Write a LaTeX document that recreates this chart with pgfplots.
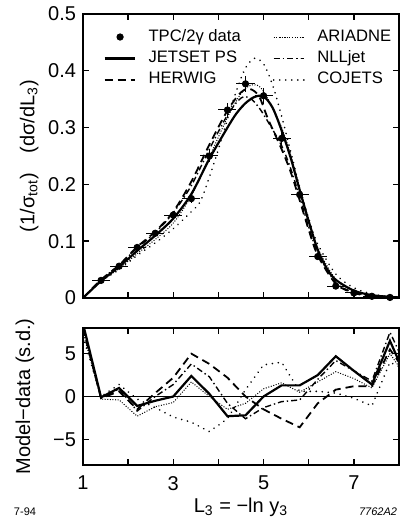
\documentclass[border=0pt]{standalone}
\usepackage{fontspec}
\setmainfont{Liberation Sans}
\usepackage{pgfplots}
\pgfplotsset{compat=1.18}
\tikzset{
  jetset/.style={black, line width=1.1pt},
  herwig/.style={black, line width=0.9pt, dash pattern=on 4pt off 2.5pt},
  ariadne/.style={black, line width=0.5pt, dash pattern=on 0.5pt off 0.8pt},
  nlljet/.style={black, line width=0.7pt, dash pattern=on 3pt off 1.5pt on 0.7pt off 1.5pt},
  cojets/.style={black, line width=0.9pt, line cap=round, dash pattern=on 0.01pt off 3pt},
}
\pgfplotsset{
  common/.style={
    scale only axis, width=158pt, anchor=south west,
    xmin=1, xmax=8, xtick={1,2,3,4,5,6,7,8},
    tick align=inside, tick pos=both, major tick length=3pt,
    axis line style={line width=0.8pt}, every tick/.style={black, line width=0.7pt},
    ticklabel style={font=\fontsize{10}{12}\selectfont},
    label style={font=\fontsize{10}{12}\selectfont},
  }
}
\begin{document}
\begin{tikzpicture}[x=1pt,y=1pt]
\path[use as bounding box] (0,0) rectangle (200,260);
% ---------------- top panel ----------------
\begin{axis}[common,
  at={(41.5pt,111pt)}, height=142pt,
  ymin=0, ymax=0.5,
  xticklabels={},
  ytick={0,0.1,0.2,0.3,0.4,0.5}, yticklabels={0,0.1,0.2,0.3,0.4,0.5},
  ylabel={(1/σ\textsubscript{tot})\quad(dσ/dL\textsubscript{3})},
  ylabel style={at={(axis description cs:-0.17,0.5)}, anchor=center},
  legend columns=2,
  legend style={at={(axis description cs:0.045,0.975)}, anchor=north west,
    draw=none, fill=none, font=\fontsize{8.3}{9.5}\selectfont, row sep=-0.8pt,
    /tikz/every odd column/.append style={column sep=4pt},
    /tikz/every even column/.append style={column sep=14pt},
    /pgfplots/legend image code/.code={\draw[mark repeat=2,mark phase=2,#1]
      plot coordinates {(0cm,0cm) (0.27cm,0cm) (0.54cm,0cm)};}},
  legend cell align=left,
]
\addplot[only marks, mark=*, mark size=1.6pt, black,
  error bars/.cd, x dir=both, x explicit, y dir=both, y explicit,
  error bar style={line width=0.5pt, black}, error mark=none]
  table[x=x, y=y, x error=ex, y error=ey] {
x   y     ex  ey
1.4 0.031 0.2 0.004
1.8 0.056 0.2 0.004
2.2 0.089 0.2 0.005
2.6 0.114 0.2 0.006
3.0 0.146 0.2 0.007
3.4 0.175 0.2 0.008
3.8 0.250 0.2 0.010
4.2 0.331 0.2 0.012
4.6 0.377 0.2 0.014
5.0 0.356 0.2 0.014
5.4 0.281 0.2 0.012
5.8 0.182 0.2 0.010
6.2 0.073 0.2 0.006
6.6 0.021 0.2 0.004
7.0 0.009 0.2 0.003
7.4 0.003 0.2 0.002
7.8 0.001 0.2 0.001
};
\addlegendentry{TPC/2γ data}
\addplot[ariadne, smooth, tension=0.5] coordinates {
(1.0,0.000) (1.4,0.029) (1.8,0.052) (2.2,0.078) (2.6,0.103) (3.0,0.132)
(3.4,0.180) (3.8,0.248) (4.2,0.318) (4.5,0.360) (4.7,0.374) (4.9,0.373)
(5.1,0.350) (5.4,0.300) (5.6,0.252) (5.8,0.194) (6.0,0.138) (6.2,0.088)
(6.6,0.033) (7.0,0.013) (7.4,0.005) (8.0,0.001)};
\addlegendentry{ARIADNE}
\addplot[jetset, smooth, tension=0.5] coordinates {
(1.0,0.000) (1.4,0.030) (1.8,0.055) (2.2,0.083) (2.6,0.110) (3.0,0.140)
(3.4,0.183) (3.8,0.245) (4.2,0.300) (4.4,0.325) (4.6,0.343) (4.8,0.354)
(5.0,0.355) (5.2,0.335) (5.4,0.295) (5.6,0.247) (5.8,0.190) (6.0,0.135)
(6.2,0.085) (6.4,0.052) (6.6,0.032) (7.0,0.013) (7.4,0.005) (7.8,0.002) (8.0,0.001)};
\addlegendentry{JETSET PS}
\addplot[nlljet, smooth, tension=0.5] coordinates {
(1.0,0.000) (1.4,0.032) (1.8,0.058) (2.2,0.088) (2.6,0.115) (3.0,0.150)
(3.4,0.198) (3.8,0.262) (4.2,0.322) (4.5,0.352) (4.7,0.352) (4.9,0.335)
(5.1,0.310) (5.4,0.268) (5.6,0.228) (5.8,0.178) (6.0,0.125) (6.2,0.080)
(6.6,0.027) (7.0,0.010) (7.4,0.004) (8.0,0.001)};
\addlegendentry{NLLjet}
\addplot[herwig, smooth, tension=0.5] coordinates {
(1.0,0.000) (1.4,0.032) (1.8,0.058) (2.2,0.090) (2.6,0.117) (3.0,0.152)
(3.4,0.205) (3.8,0.270) (4.2,0.330) (4.5,0.362) (4.7,0.368) (4.9,0.355)
(5.1,0.315) (5.4,0.262) (5.6,0.222) (5.8,0.172) (6.0,0.120) (6.2,0.075)
(6.6,0.025) (7.0,0.009) (7.4,0.003) (8.0,0.0005)};
\addlegendentry{HERWIG}
\addplot[cojets, smooth, tension=0.5] coordinates {
(1.0,0.000) (1.4,0.029) (1.8,0.050) (2.2,0.075) (2.6,0.097) (3.0,0.122)
(3.4,0.152) (3.6,0.170) (3.8,0.213) (4.0,0.262) (4.2,0.315) (4.4,0.365)
(4.6,0.405) (4.8,0.422) (5.0,0.412) (5.2,0.375) (5.4,0.320) (5.6,0.258)
(5.8,0.195) (6.0,0.140) (6.2,0.095) (6.6,0.042) (7.0,0.018) (7.4,0.007)
(7.8,0.002) (8.0,0.001)};
\addlegendentry{COJETS}
\end{axis}
% ---------------- bottom panel ----------------
\begin{axis}[common,
  at={(41.5pt,27.5pt)}, height=68.5pt,
  ymin=-8, ymax=8,
  xticklabels={1,,3,,5,,7,},
  xticklabel style={yshift=-2pt},
  ytick={-5,0,5}, yticklabels={−5,0,5},
  xlabel={L\textsubscript{3} = −ln y\textsubscript{3}},
  xlabel style={at={(axis description cs:0.5,-0.31)}, anchor=center},
  ylabel={Model−data (s.d.)},
  ylabel style={at={(axis description cs:-0.184,0.5)}, anchor=center},
]
\addplot[black, line width=0.5pt] coordinates {(1,0) (8,0)};
\addplot[jetset] coordinates {
(1.0,8.5) (1.4,-0.1) (1.8,1.0) (2.2,-1.1) (2.6,-0.5) (3.0,0.0) (3.4,2.4)
(3.8,0.3) (4.2,-2.3) (4.6,-2.2) (5.0,0.0) (5.4,1.3) (5.8,1.3) (6.2,2.5)
(6.6,4.7) (7.0,3.0) (7.4,1.4) (7.8,6.5) (8.2,1.7)};
\addplot[herwig] coordinates {
(1.0,8.0) (1.4,-0.2) (1.8,0.6) (2.2,-1.5) (2.6,0.4) (3.0,2.2) (3.4,5.0)
(3.8,3.8) (4.2,2.2) (4.6,0.0) (5.0,-1.5) (5.4,-2.6) (5.8,-3.6) (6.2,-0.8)
(6.6,0.8) (7.0,1.2) (7.4,1.2) (7.8,5.5) (8.2,2.5)};
\addplot[ariadne] coordinates {
(1.0,7.5) (1.4,-0.3) (1.8,-0.4) (2.2,-2.3) (2.6,-1.2) (3.0,-0.7) (3.4,1.7)
(3.8,0.0) (4.2,-1.5) (4.6,-0.8) (5.0,0.9) (5.4,1.6) (5.8,0.5) (6.2,1.7)
(6.6,2.9) (7.0,2.1) (7.4,1.0) (7.8,5.0) (8.2,2.0)};
\addplot[nlljet] coordinates {
(1.0,8.0) (1.4,-0.2) (1.8,0.9) (2.2,-1.7) (2.6,0.0) (3.0,1.4) (3.4,3.8)
(3.8,2.3) (4.2,-0.8) (4.6,-2.6) (5.0,-1.3) (5.4,-0.6) (5.8,-0.4) (6.2,2.0)
(6.6,4.2) (7.0,3.0) (7.4,1.8) (7.8,7.5) (8.2,3.0)};
\addplot[cojets] coordinates {
(1.0,7.0) (1.4,0.0) (1.8,1.4) (2.2,-0.3) (2.6,-1.3) (3.0,-2.4) (3.4,-3.0)
(3.8,-4.1) (4.2,-2.6) (4.6,0.8) (5.0,3.7) (5.4,4.0) (5.8,0.6) (6.2,0.6)
(6.6,0.4) (7.0,-0.2) (7.4,-1.1) (7.8,4.0) (8.2,3.0)};
\end{axis}
\node[font=\fontsize{5.5}{6}\selectfont] at (12.5,4) {7-94};
\node[font=\fontsize{5.5}{6}\selectfont\itshape] at (189,4) {7762A2};
\end{tikzpicture}
\end{document}
